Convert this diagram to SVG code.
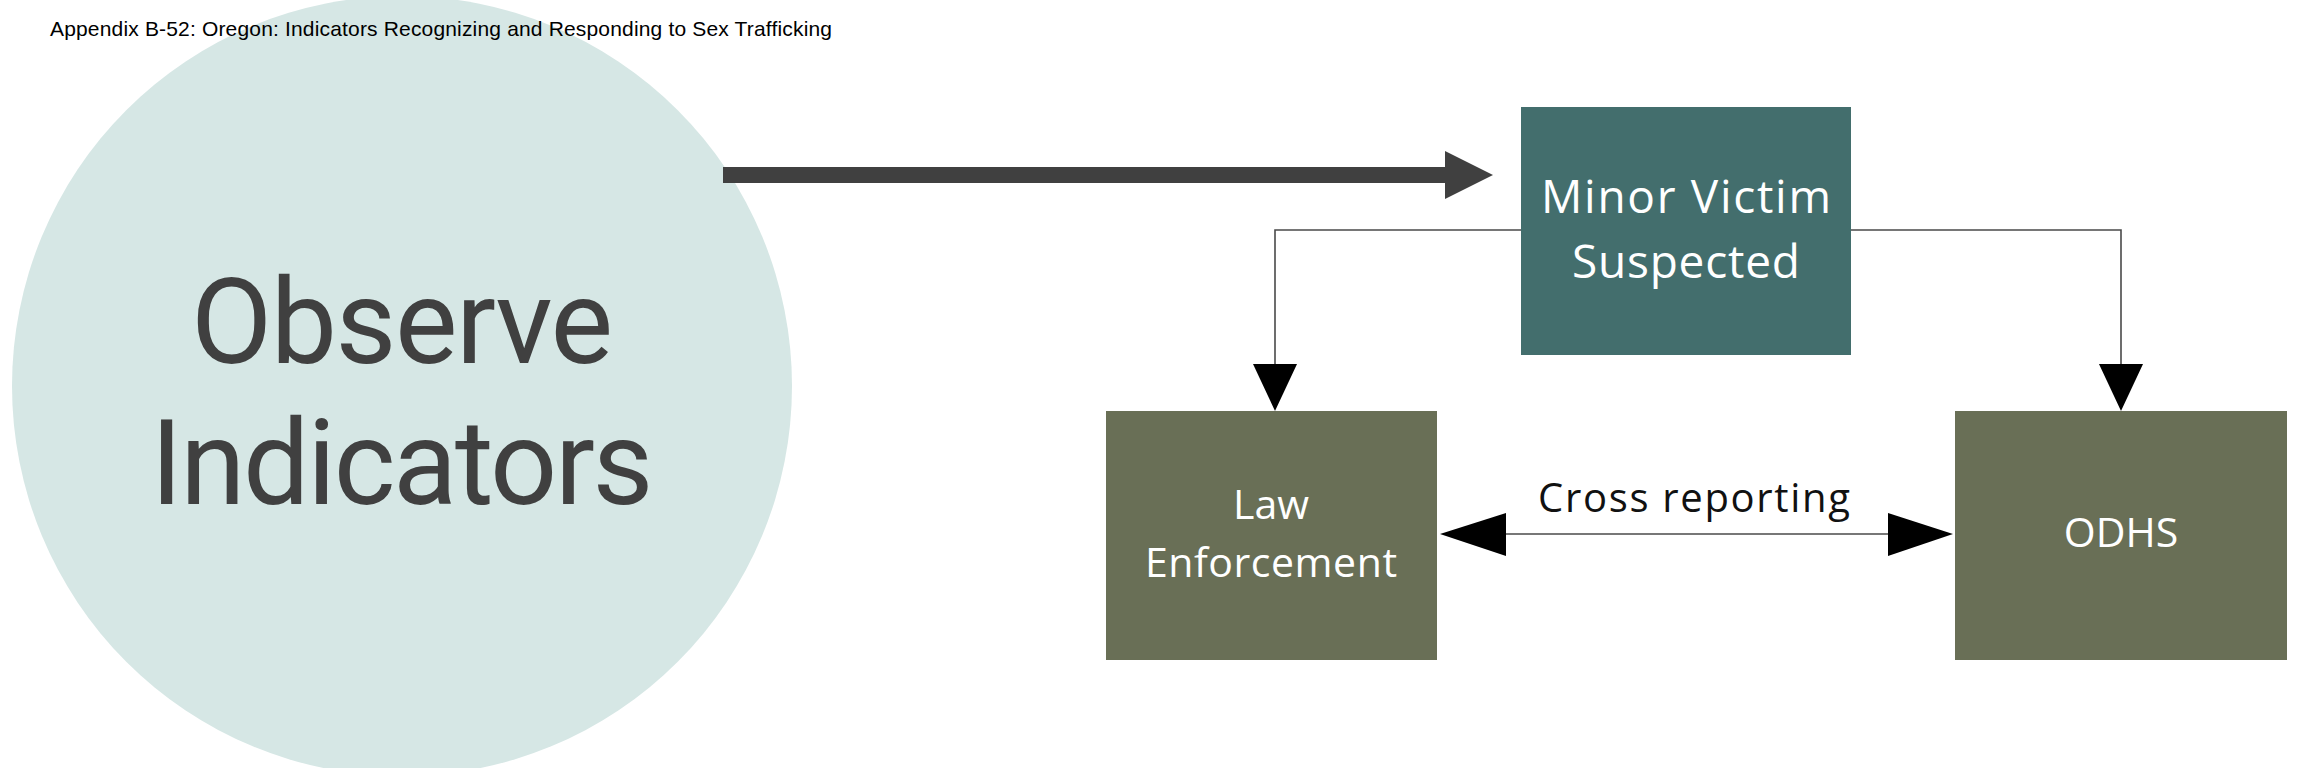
<svg xmlns="http://www.w3.org/2000/svg" width="2300" height="768" viewBox="0 0 2300 768">
<style>
.title{font-family:"Liberation Sans",Arial,sans-serif;font-size:21px;fill:#000}
.big{font-family:Roboto,"Open Sans",sans-serif;font-size:118px;fill:#404040;text-anchor:middle}
.wt{font-family:"Open Sans","Noto Sans",sans-serif;fill:#ffffff;text-anchor:middle}
.lbl{font-family:"Open Sans","Noto Sans",sans-serif;font-size:40px;fill:#111;text-anchor:middle}
.ln{fill:none;stroke:#4a4a4a;stroke-width:1.6}
.head{fill:#000}
</style>
<rect width="2300" height="768" fill="#ffffff"/>
<g id="observe">
<circle cx="402" cy="386" r="390" fill="#d6e7e5"/>
<text class="big" x="402" y="363" textLength="422">Observe</text>
<text class="big" x="402" y="504" textLength="503">Indicators</text>
</g>
<text class="title" x="50" y="36" textLength="782">Appendix B-52: Oregon: Indicators Recognizing and Responding to Sex Trafficking</text>
<g id="connectors">
<path d="M723 175 H1447" stroke="#404040" stroke-width="16" fill="none"/>
<polygon points="1445,151 1493,175 1445,199" fill="#404040"/>
<path class="ln" d="M1521 230 H1275 V366"/>
<polygon class="head" points="1253,364 1297,364 1275,411"/>
<path class="ln" d="M1851 230 H2121 V366"/>
<polygon class="head" points="2099,364 2143,364 2121,411"/>
<path class="ln" d="M1504 534 H1890"/>
<polygon class="head" points="1506,513 1506,556 1440,534"/>
<polygon class="head" points="1888,513 1888,556 1953,534"/>
<text class="lbl" x="1694" y="512" textLength="312">Cross reporting</text>
</g>
<g id="minor-victim">
<rect x="1521" y="107" width="330" height="248" fill="#436e6d"/>
<text class="wt" x="1686" y="213" font-size="46" textLength="290">Minor Victim</text>
<text class="wt" x="1686" y="278" font-size="46" textLength="228">Suspected</text>
</g>
<g id="law-enforcement">
<rect x="1106" y="411" width="331" height="249" fill="#696f56"/>
<text class="wt" x="1271" y="519" font-size="41">Law</text>
<text class="wt" x="1271" y="577" font-size="41" textLength="252">Enforcement</text>
</g>
<g id="odhs">
<rect x="1955" y="411" width="332" height="249" fill="#696f56"/>
<text class="wt" x="2121" y="547" font-size="41">ODHS</text>
</g>
</svg>
